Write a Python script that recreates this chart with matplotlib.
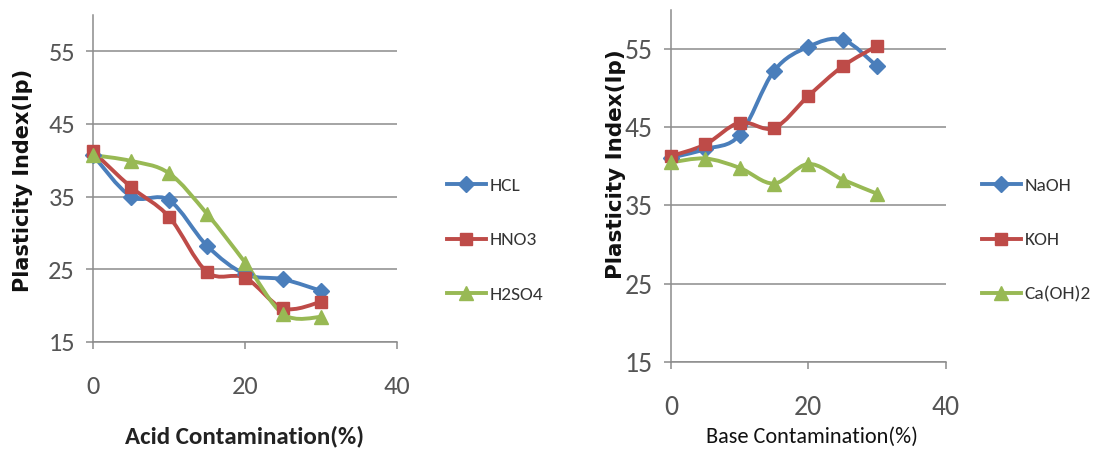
import numpy as np
import matplotlib
matplotlib.use("Agg")
from matplotlib import pyplot as plt
from matplotlib.path import Path
from matplotlib.patches import PathPatch
from matplotlib.lines import Line2D

# contamination levels (%)
conc = [0, 5, 10, 15, 20, 25, 30]

# plasticity index under acid contamination
hcl = [40.7, 35.0, 34.5, 28.2, 24.3, 23.6, 22.0]
hno3 = [41.2, 36.3, 32.2, 24.6, 23.8, 19.6, 20.5]
h2so4 = [40.7, 39.9, 38.2, 32.6, 25.9, 18.8, 18.4]

# plasticity index under base contamination
naoh = [41.1, 42.2, 44.0, 52.2, 55.3, 56.2, 52.8]
koh = [41.3, 42.8, 45.6, 44.9, 49.0, 52.8, 55.4]
caoh2 = [40.5, 41.0, 39.8, 37.8, 40.3, 38.3, 36.5]

acid_names = ["HCL", "HNO3", "H2SO4"]
base_names = ["NaOH", "KOH", "Ca(OH)2"]

colors = ["#4A7EBB", "#BE4B48", "#98B954"]
markers = ["D", "s", "^"]
msizes = [8, 9, 9.5]

NARROW = ["Carlito", "Fira Sans Condensed", "DejaVu Sans"]
GRID = "#8c8c8c"


def smooth_path(x, y):
    # Catmull-Rom style bezier through the points (Excel "smoothed line")
    pts = np.column_stack([x, y]).astype(float)
    verts = [pts[0]]
    codes = [Path.MOVETO]
    n = len(pts)
    for i in range(n - 1):
        p0 = pts[i - 1] if i > 0 else pts[i]
        p1 = pts[i]
        p2 = pts[i + 1]
        p3 = pts[i + 2] if i + 2 < n else pts[i + 1]
        c1 = p1 + (p2 - p0) / 6.0
        c2 = p2 - (p3 - p1) / 6.0
        verts += [c1, c2, p2]
        codes += [Path.CURVE4] * 3
    return Path(verts, codes)


def draw_panel(ax, series, names, tick_size):
    for vals, c, m, ms in zip(series, colors, markers, msizes):
        patch = PathPatch(smooth_path(conc, vals), fill=False, edgecolor=c,
                          lw=2.8, clip_on=False, zorder=3)
        ax.add_patch(patch)
        ax.plot(conc, vals, ls="none", marker=m, ms=ms, color=c,
                clip_on=False, zorder=4)
    ax.set_xlim(0, 40)
    ax.set_ylim(15, 60)
    ax.set_xticks([0, 20, 40])
    ax.set_yticks([15, 25, 35, 45, 55])
    ax.yaxis.grid(True, color=GRID, lw=1.1)
    ax.set_axisbelow(True)
    for s in ["top", "right"]:
        ax.spines[s].set_visible(False)
    for s in ["left", "bottom"]:
        ax.spines[s].set_color(GRID)
        ax.spines[s].set_linewidth(1.1)
    ax.tick_params(axis="both", direction="out", length=5, width=1.1,
                   color=GRID, labelcolor="#555555", labelsize=tick_size)
    ax.tick_params(axis="x", pad=19)
    ax.tick_params(axis="y", pad=8)
    for lab in ax.get_xticklabels() + ax.get_yticklabels():
        lab.set_family(NARROW)


fig = plt.figure(figsize=(11.03, 4.55), dpi=100)

ax1 = fig.add_axes([0.0843, 0.249, 0.2759, 0.718])
draw_panel(ax1, [hcl, hno3, h2so4], acid_names, 19)

ax2 = fig.add_axes([0.6083, 0.205, 0.2491, 0.773])
draw_panel(ax2, [naoh, koh, caoh2], base_names, 20)

fig.text(0.2221, 0.040, "Acid Contamination(%)", ha="center", va="center",
         family=NARROW, fontweight="bold", fontsize=18, color="#222222")
fig.text(0.7362, 0.040, "Base Contamination(%)", ha="center", va="center",
         family=NARROW, fontsize=16, color="#111111")
fig.text(0.0209, 0.604, "Plasticity Index(Ip)", rotation=90, ha="center",
         va="center", fontweight="bold", fontsize=15, color="#111111")
fig.text(0.5585, 0.640, "Plasticity Index(Ip)", rotation=90, ha="center",
         va="center", fontweight="bold", fontsize=15.5, color="#111111")


def legend_for(ax, names, anchor):
    handles = [Line2D([], [], color=c, lw=2.8, marker=m, ms=ms)
               for c, m, ms in zip(colors, markers, msizes)]
    leg = ax.legend(handles, names, loc="center left", bbox_to_anchor=anchor,
                    bbox_transform=fig.transFigure, frameon=False,
                    handlelength=2.0, handletextpad=0.2, labelspacing=1.95,
                    borderpad=0, borderaxespad=0,
                    prop={"family": NARROW, "size": 14})
    for t in leg.get_texts():
        t.set_color("#333333")


legend_for(ax1, acid_names, (0.4053, 0.4725))
legend_for(ax2, base_names, (0.8903, 0.4725))

fig.savefig("out.png", dpi=100)
